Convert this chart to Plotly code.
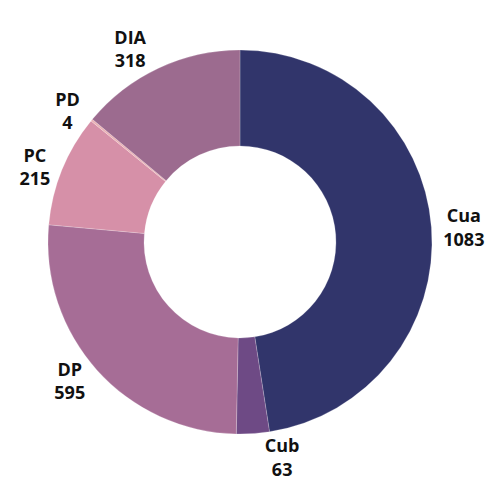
import plotly.graph_objects as go

labels = ["Cua", "Cub", "DP", "PC", "PD", "DIA"]
values = [1083, 63, 595, 215, 4, 318]
colors = ["#31356b", "#6e4a85", "#a66d96", "#d690a8", "#eab0b4", "#9c6b8f"]

fig = go.Figure(go.Pie(
    labels=labels,
    values=values,
    hole=0.5,
    sort=False,
    direction="clockwise",
    rotation=0,
    marker=dict(colors=colors, line=dict(color="rgba(255,255,255,0.4)", width=0.5)),
    textposition="outside",
    texttemplate="%{label}<br>%{value}",
    textfont=dict(family="Open Sans", size=18, color="#111111", weight="bold"),
    showlegend=False,
    automargin=False,
    hoverinfo="label+value",
    domain=dict(x=[0.0811, 0.860], y=[0.123, 0.914]),
))
fig.update_layout(
    width=493, height=486,
    margin=dict(l=0, r=0, t=0, b=0),
    paper_bgcolor="white",
    plot_bgcolor="white",
)
fig.write_html("out.html")
